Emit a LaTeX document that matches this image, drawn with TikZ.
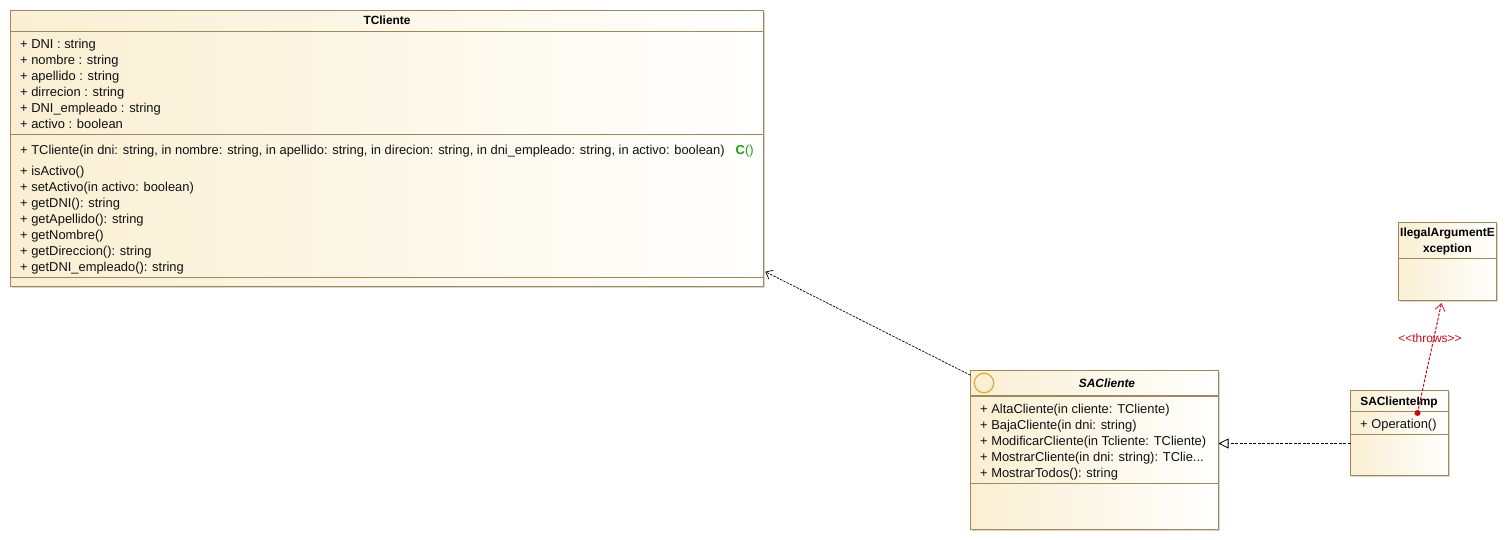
\documentclass[tikz,border=0pt]{standalone}
\usepackage{fontspec}
\setmainfont{Liberation Sans}
\usetikzlibrary{arrows.meta,shadows}
\definecolor{umlborder}{HTML}{9C8A5E}
\definecolor{umlfill}{HTML}{FAEFD2}
\definecolor{umlred}{HTML}{C40A14}
\definecolor{umlgreen}{HTML}{1E9C1E}
\definecolor{umlicon}{HTML}{D8A93E}
\definecolor{umlshadow}{HTML}{DAD6CC}
\definecolor{umltext}{HTML}{101010}
\tikzset{
  classbox/.style={draw=umlborder,line width=1pt,left color=umlfill,right color=white,
    inner sep=0pt,outer sep=0pt,
    general shadow={shadow xshift=1.5pt,shadow yshift=-1.5pt,fill=umlshadow}},
  sepline/.style={draw=umlborder,line width=1pt},
  row/.style={anchor=base west,inner sep=0pt,yshift=-0.7pt,text=umltext,font=\fontsize{12.9}{15}\selectfont},
  titletext/.style={anchor=base,inner sep=0pt,yshift=-0.5pt,text=black,font=\fontsize{11.9}{14}\selectfont\bfseries},
  depend/.style={dash pattern=on 2.5pt off 1.2pt,line width=0.7pt,black,
     -{Straight Barb[length=6pt,width=10pt,line width=0.7pt]}},
  realize/.style={dash pattern=on 3pt off 1.5pt,line width=0.8pt,black,
     -{Triangle[open,length=10pt,width=10pt,fill=white,line width=0.8pt]}},
  throwsline/.style={dash pattern=on 3pt off 1.5pt,line width=1pt,umlred,
     -{Straight Barb[length=7pt,width=10pt,line width=0.7pt]}},
}
\begin{document}
\begin{tikzpicture}[x=1pt,y=-1pt]
\useasboundingbox (0,0) rectangle (1508,540);
% class boxes
\node[classbox,minimum width=753pt,minimum height=276pt] (tcliente) at (387,148.5) {};
\node[classbox,minimum width=248pt,minimum height=158.5pt] (sacliente) at (1094.5,449.75) {};
\node[classbox,minimum width=98pt,minimum height=84.5pt] (saimp) at (1399.5,432.75) {};
\node[classbox,minimum width=98pt,minimum height=77.5pt] (illegal) at (1447.5,261.25) {};
% compartments
\draw[sepline] (10.5,31.5) -- (763.5,31.5);
\draw[sepline] (10.5,134.5) -- (763.5,134.5);
\draw[sepline] (10.5,277.5) -- (763.5,277.5);
\draw[sepline,line width=2pt] (970.5,395.5) -- (1218.5,395.5);
\draw[sepline] (970.5,483.5) -- (1218.5,483.5);
\draw[sepline] (1350.5,411.5) -- (1448.5,411.5);
\draw[sepline] (1350.5,434.5) -- (1448.5,434.5);
\draw[sepline] (1398.5,258.5) -- (1496.5,258.5);
% TCliente
\node[titletext] (t0) at (387,24.5) {TCliente};
\node[row] (t1) at (20,48) {+ DNI : string};
\node[row] (t2) at (20,64) {+ nombre : string};
\node[row] (t3) at (20,80) {+ apellido : string};
\node[row] (t4) at (20,96) {+ dirrecion : string};
\node[row] (t5) at (20,112) {+ DNI\_empleado : string};
\node[row] (t6) at (20,128) {+ activo : boolean};
\node[row] (t7) at (20,154) {+ TCliente(in dni: string, in nombre: string, in apellido: string, in direcion: string, in dni\_empleado: string, in activo: boolean)};
\node[row,text=umlgreen] (t7c) at (735.5,154) {\textbf{C}()};
\node[row] (t8) at (20,175) {+ isActivo()};
\node[row] (t9) at (20,191) {+ setActivo(in activo: boolean)};
\node[row] (t10) at (20,207) {+ getDNI(): string};
\node[row] (t11) at (20,223) {+ getApellido(): string};
\node[row] (t12) at (20,239) {+ getNombre()};
\node[row] (t13) at (20,255) {+ getDireccion(): string};
\node[row] (t14) at (20,271) {+ getDNI\_empleado(): string};
% SACliente
\node[circle,draw=umlicon,line width=1.2pt,fill=umlfill,minimum size=19.5pt,inner sep=0pt] (icon) at (984,383) {};
\node[titletext,font=\fontsize{11.9}{14}\selectfont\bfseries\itshape] (s0) at (1107,387) {SACliente};
\node[row] (s1) at (980,413) {+ AltaCliente(in cliente: TCliente)};
\node[row] (s2) at (980,429) {+ BajaCliente(in dni: string)};
\node[row] (s3) at (980,445) {+ ModificarCliente(in Tcliente: TCliente)};
\node[row] (s4) at (980,461) {+ MostrarCliente(in dni: string): TClie...};
\node[row] (s5) at (980,477) {+ MostrarTodos(): string};
% SAClienteImp
\node[titletext] (i0) at (1399,405) {SAClienteImp};
\node[row] (i1) at (1360,428) {+ Operation()};
% Exception
\node[titletext] (e0) at (1447.5,236) {IlegalArgumentE};
\node[titletext] (e1) at (1447.5,252) {xception};
% connectors
\draw[depend,shorten >=2pt] (sacliente.149.1) -- (tcliente.-18.6);
\coordinate (rt) at (1300,443.5);
\draw[realize] (saimp.west |- rt) -- (sacliente.east |- rt);
\node[circle,fill=umlred,minimum size=6pt,inner sep=0pt] (dot) at (1417.5,413) {};
\coordinate (throwend) at (1441.5,303);
\draw[throwsline] (dot.center) -- (throwend);
\node[inner sep=0pt,text=umlred,font=\fontsize{12}{14}\selectfont] (lbl) at (1430,338) {<{}<throws>{}>};
\end{tikzpicture}
\end{document}
